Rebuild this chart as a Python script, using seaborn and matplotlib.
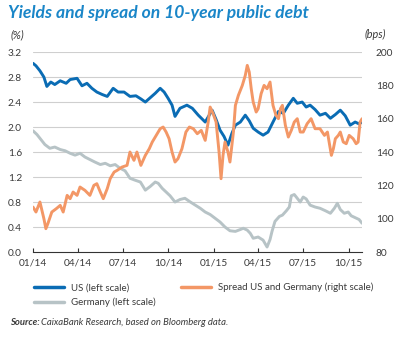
import matplotlib
matplotlib.use("Agg")
import matplotlib.pyplot as plt
import matplotlib.dates as mdates
import pandas as pd
import seaborn as sns

# ---------------- data ----------------
us_dates = ["2014-01-01","2014-01-07","2014-01-15","2014-01-23","2014-01-29","2014-02-06","2014-02-14",
            "2014-02-25","2014-03-09","2014-03-17","2014-03-31","2014-04-10","2014-04-20","2014-04-30",
            "2014-05-10","2014-05-21","2014-05-31","2014-06-12","2014-06-22","2014-07-04","2014-07-16",
            "2014-07-28","2014-08-07","2014-08-16","2014-08-26","2014-09-05","2014-09-15","2014-09-23",
            "2014-10-01","2014-10-09","2014-10-15","2014-10-25","2014-11-08","2014-11-19","2014-12-01",
            "2014-12-15","2014-12-29","2015-01-06","2015-01-14","2015-01-22","2015-01-30","2015-02-07",
            "2015-02-14","2015-02-24","2015-03-06","2015-03-14","2015-03-22","2015-04-01","2015-04-11",
            "2015-04-21","2015-05-01","2015-05-12","2015-05-22","2015-06-01","2015-06-11","2015-06-19",
            "2015-06-29","2015-07-07","2015-07-15","2015-07-25","2015-08-04","2015-08-15","2015-08-25",
            "2015-09-04","2015-09-14","2015-09-24","2015-10-04","2015-10-14","2015-10-22","2015-10-28"]
us_values = [3.02,2.98,2.90,2.80,2.65,2.72,2.68,2.74,2.70,2.76,2.78,2.66,2.70,2.62,2.56,2.52,2.49,2.62,
             2.56,2.56,2.49,2.50,2.45,2.40,2.47,2.54,2.62,2.56,2.46,2.35,2.17,2.30,2.35,2.30,2.19,2.08,
             2.27,2.12,1.95,1.85,1.71,1.90,2.03,2.08,2.19,2.10,1.98,1.92,1.87,1.92,2.08,2.25,2.22,2.35,
             2.46,2.38,2.40,2.32,2.35,2.28,2.19,2.22,2.14,2.20,2.27,2.18,2.03,2.08,2.05,2.08]

de_dates = ["2014-01-01","2014-01-09","2014-01-17","2014-01-25","2014-02-04","2014-02-14","2014-02-25",
            "2014-03-07","2014-03-17","2014-03-27","2014-04-06","2014-04-16","2014-04-26","2014-05-06",
            "2014-05-17","2014-05-27","2014-06-06","2014-06-16","2014-06-26","2014-07-06","2014-07-16",
            "2014-07-26","2014-08-06","2014-08-16","2014-08-26","2014-09-05","2014-09-11","2014-09-19",
            "2014-09-27","2014-10-05","2014-10-15","2014-10-25","2014-11-04","2014-11-15","2014-11-25",
            "2014-12-05","2014-12-15","2014-12-25","2015-01-04","2015-01-14","2015-01-24","2015-02-03",
            "2015-02-14","2015-02-24","2015-03-02","2015-03-10","2015-03-16","2015-03-22","2015-04-01",
            "2015-04-11","2015-04-19","2015-04-25","2015-04-29","2015-05-05","2015-05-14","2015-05-20",
            "2015-05-28","2015-06-03","2015-06-07","2015-06-13","2015-06-19","2015-06-25","2015-07-01",
            "2015-07-07","2015-07-15","2015-07-25","2015-08-04","2015-08-15","2015-08-25","2015-09-02",
            "2015-09-08","2015-09-14","2015-09-22","2015-09-30","2015-10-06","2015-10-14","2015-10-22",
            "2015-10-28"]
de_values = [1.94,1.88,1.80,1.72,1.66,1.68,1.64,1.62,1.58,1.55,1.58,1.52,1.48,1.44,1.40,1.42,1.38,1.40,
             1.34,1.30,1.18,1.15,1.12,0.99,1.05,1.12,1.10,1.02,0.96,0.90,0.80,0.84,0.86,0.80,0.75,0.70,
             0.64,0.60,0.54,0.48,0.40,0.34,0.33,0.36,0.38,0.35,0.30,0.22,0.24,0.19,0.08,0.20,0.33,0.49,
             0.57,0.59,0.66,0.72,0.90,0.92,0.86,0.80,0.88,0.85,0.75,0.72,0.70,0.66,0.62,0.70,0.78,0.68,
             0.62,0.64,0.58,0.55,0.52,0.46]

sp_dates = ["2014-01-01","2014-01-07","2014-01-15","2014-01-23","2014-01-27","2014-01-31","2014-02-08",
            "2014-02-17","2014-02-25","2014-03-03","2014-03-11","2014-03-17","2014-03-23","2014-03-31",
            "2014-04-06","2014-04-16","2014-04-26","2014-05-04","2014-05-10","2014-05-17","2014-05-23",
            "2014-05-31","2014-06-06","2014-06-14","2014-06-20","2014-06-30","2014-07-10","2014-07-16",
            "2014-07-24","2014-07-30","2014-08-07","2014-08-16","2014-08-24","2014-08-30","2014-09-07",
            "2014-09-15","2014-09-21","2014-09-27","2014-10-03","2014-10-09","2014-10-15","2014-10-21",
            "2014-10-29","2014-11-06","2014-11-13","2014-11-21","2014-11-29","2014-12-07","2014-12-15",
            "2014-12-21","2014-12-25","2014-12-31","2015-01-06","2015-01-12","2015-01-16","2015-01-20",
            "2015-01-24","2015-01-30","2015-02-03","2015-02-10","2015-02-14","2015-02-20","2015-02-28",
            "2015-03-06","2015-03-10","2015-03-14","2015-03-18","2015-03-22","2015-03-28","2015-04-01",
            "2015-04-07","2015-04-13","2015-04-19","2015-04-25","2015-05-01","2015-05-07","2015-05-12",
            "2015-05-16","2015-05-20","2015-05-26","2015-06-01","2015-06-07","2015-06-13","2015-06-19",
            "2015-06-25","2015-07-01","2015-07-09","2015-07-17","2015-07-25","2015-08-04","2015-08-13",
            "2015-08-19","2015-08-23","2015-08-27","2015-08-31","2015-09-04","2015-09-10","2015-09-14",
            "2015-09-20","2015-09-26","2015-10-02","2015-10-10","2015-10-16","2015-10-20","2015-10-24",
            "2015-10-28"]
sp_values = [107,104,110,100,94,97,104,106,108,104,114,112,116,114,119,117,114,120,121,116,112,118,124,
             128,129,131,132,140,135,140,132,138,142,146,150,154,155,152,148,140,134,136,142,152,155,154,
             151,153,147,158,167,163,158,140,124,138,146,140,134,152,168,174,180,186,192,188,178,170,164,
             166,175,180,178,182,168,162,160,166,168,156,149,153,158,160,152,152,157,160,154,154,150,152,
             145,138,142,148,150,152,146,145,150,148,145,146,158,160]

labels = ["US (left scale)", "Spread US and Germany (right scale)", "Germany (left scale)"]
left_ticks = [0.0, 0.4, 0.8, 1.2, 1.6, 2.0, 2.4, 2.8, 3.2]
right_ticks = [80, 100, 120, 140, 160, 180, 200]
x_ticks = ["2014-01-01","2014-04-01","2014-07-01","2014-10-01","2015-01-01","2015-04-01","2015-07-01","2015-10-01"]

# ---------------- style ----------------
C_US = "#0a6cb4"
C_DE = "#b7c3c6"
C_SP = "#f39766"
C_TITLE = "#1a86c8"
C_TXT = "#3a3a3a"

sns.set_theme(style="white")
plt.rcParams["font.family"] = ["Lato", "DejaVu Sans"]

us = pd.DataFrame({"date": pd.to_datetime(us_dates), "value": us_values})
de = pd.DataFrame({"date": pd.to_datetime(de_dates), "value": de_values})
sp = pd.DataFrame({"date": pd.to_datetime(sp_dates), "value": sp_values})

fig = plt.figure(figsize=(4.05, 3.38), dpi=100)
ax = fig.add_axes([0.0815, 0.2544, 0.8125, 0.5916])
ax2 = ax.twinx()

for v in left_ticks[1:]:
    ax.axhline(v, color="#cfcfcf", lw=0.8, zorder=0)

lw = 2.1
sns.lineplot(data=de, x="date", y="value", ax=ax, color=C_DE, lw=lw, label=labels[2], legend=False)
sns.lineplot(data=us, x="date", y="value", ax=ax, color=C_US, lw=lw, label=labels[0], legend=False)
sns.lineplot(data=sp, x="date", y="value", ax=ax2, color=C_SP, lw=lw, label=labels[1], legend=False)

ax.set_ylim(0, 3.2)
ax2.set_ylim(80, 200)
ax.set_xlim(pd.Timestamp("2014-01-01"), pd.Timestamp("2015-10-28"))
ax.set_yticks(left_ticks)
ax.set_yticklabels([f"{v:.1f}" for v in left_ticks])
ax2.set_yticks(right_ticks)
ax2.set_yticklabels([str(v) for v in right_ticks])
ax.set_xticks(pd.to_datetime(x_ticks))
ax.xaxis.set_major_formatter(mdates.DateFormatter("%m/%y"))
ax.set_xlabel("")
ax.set_ylabel("")
ax2.set_ylabel("")

for a in (ax, ax2):
    for s in ("top", "left", "right", "bottom"):
        a.spines[s].set_visible(False)
ax.spines["bottom"].set_visible(True)
ax.spines["bottom"].set_color("#333333")
ax.spines["bottom"].set_linewidth(0.8)

ax.tick_params(axis="y", length=0, labelsize=7.3, labelcolor=C_TXT, pad=8)
ax2.tick_params(axis="y", length=0, labelsize=7.3, labelcolor=C_TXT, pad=10)
ax.tick_params(axis="x", direction="in", length=3, width=0.8, color="#333333",
               labelsize=7.3, labelcolor=C_TXT, pad=5, bottom=True)

fig.text(0.02, 0.962, "Yields and spread on 10-year public debt", fontsize=12.6,
         fontweight="bold", fontstyle="italic", color=C_TITLE, va="center", ha="left")
fig.text(0.025, 0.898, "(%)", fontsize=7.8, fontstyle="italic", color=C_TXT, va="center")
fig.text(0.953, 0.898, "(bps)", fontsize=7.8, fontstyle="italic", color=C_TXT, va="center", ha="right")

h1, l1 = ax.get_legend_handles_labels()
h2, l2 = ax2.get_legend_handles_labels()
hd = dict(zip(l1 + l2, h1 + h2))
order = [labels[0], labels[2], labels[1]]
leg = fig.legend([hd[k] for k in order], order, loc="upper left", bbox_to_anchor=(0.075, 0.175),
                 ncol=2, frameon=False, fontsize=7, handlelength=3.1, handletextpad=0.7,
                 columnspacing=2.6, labelspacing=0.55, borderaxespad=0)
for t in leg.get_texts():
    t.set_color(C_TXT)
for ln in leg.get_lines():
    ln.set_linewidth(2.5)

src1 = fig.text(0.025, 0.045, "Source:", fontsize=6.8, fontweight="bold", fontstyle="italic",
                color=C_TXT, va="center")
fig.canvas.draw()
bb = src1.get_window_extent(renderer=fig.canvas.get_renderer())
x1 = (bb.x1 + 1) / fig.bbox.width
fig.text(x1, 0.045, "CaixaBank Research, based on Bloomberg data.", fontsize=6.8,
         fontstyle="italic", color=C_TXT, va="center")

fig.savefig("out.png", dpi=100)
